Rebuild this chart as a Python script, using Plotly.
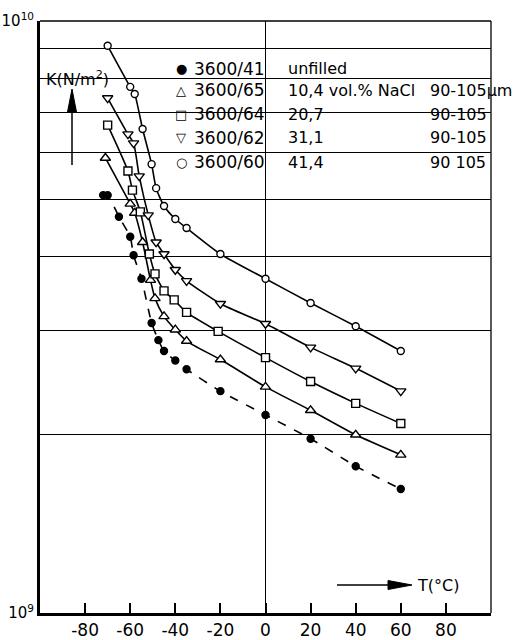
import plotly.graph_objects as go

# ---- data (temperature in °C, modulus K in N/m^2) ----
T_41 = [-72, -70, -65, -60, -58.5, -55, -50.5, -47.5, -45, -40, -35, -20, 0, 20, 40, 60]
K_41 = [5.08e9, 5.08e9, 4.67e9, 4.32e9, 4.02e9, 3.67e9, 3.09e9, 2.89e9, 2.77e9, 2.67e9, 2.58e9,
        2.37e9, 2.16e9, 1.97e9, 1.77e9, 1.62e9]

T_65 = [-71, -60, -58, -54.5, -51, -49, -45, -40, -35, -20, 0, 20, 40, 60]
K_65 = [5.87e9, 4.91e9, 4.74e9, 4.23e9, 3.65e9, 3.40e9, 3.17e9, 3.01e9, 2.88e9, 2.68e9,
        2.41e9, 2.20e9, 2.00e9, 1.85e9]

T_64 = [-70, -61, -59, -55.5, -51.5, -49, -45, -40.5, -35, -21, 0, 20, 40, 60]
K_64 = [6.67e9, 5.58e9, 5.18e9, 4.76e9, 4.04e9, 3.74e9, 3.50e9, 3.38e9, 3.22e9, 2.99e9,
        2.70e9, 2.46e9, 2.26e9, 2.09e9]

T_62 = [-70, -61, -58.5, -56, -52, -48.5, -45, -40, -35, -20, 0, 20, 40, 60]
K_62 = [7.41e9, 6.44e9, 6.22e9, 5.47e9, 4.70e9, 4.23e9, 4.04e9, 3.80e9, 3.64e9, 3.33e9,
        3.08e9, 2.81e9, 2.59e9, 2.37e9]

T_60 = [-70, -60, -58, -54.5, -50.5, -48.5, -45, -40, -35, -20, 0, 20, 40, 60]
K_60 = [9.08e9, 7.74e9, 7.53e9, 6.57e9, 5.73e9, 5.22e9, 4.87e9, 4.63e9, 4.47e9, 4.04e9,
        3.67e9, 3.34e9, 3.05e9, 2.77e9]

X_TICKS = [-80, -60, -40, -20, 0, 20, 40, 60, 80]
Y_GRID = [2e9, 3e9, 4e9, 5e9, 6e9, 7e9, 8e9, 9e9]

LEG_SYM = ["\u25cf", "\u25b3", "\u25a1", "\u25bd", "\u25cb"]
LEG_NAME = ["3600/41", "3600/65", "3600/64", "3600/62", "3600/60"]
LEG_FILL = ["unfilled", "10,4 vol.% NaCl", "20,7", "31,1", "41,4"]
LEG_SIZE = ["", "90-105\u03bcm", "90-105", "90-105", "90 105"]

FONT = "DejaVu Sans"

fig = go.Figure()

series = [
    (T_41, K_41, "circle", "black", "dash", 7),
    (T_65, K_65, "triangle-up", "white", "solid", 9),
    (T_64, K_64, "square", "white", "solid", 8),
    (T_62, K_62, "triangle-down", "white", "solid", 9),
    (T_60, K_60, "circle", "white", "solid", 7),
]
for (tx, ky, sym, fill, dash, size), nm in zip(series, LEG_NAME):
    fig.add_trace(go.Scatter(
        x=tx, y=ky, name=nm, mode="lines+markers",
        line=dict(color="black", width=1.6, shape="spline", smoothing=0.6, dash=dash),
        marker=dict(symbol=sym, size=size, color=fill, line=dict(color="black", width=1.4)),
    ))

L, R, T, B = 40, 491, 21, 613
W, H = R - L, B - T


def px(x):
    return (x - L) / W


def py(y):
    return (B - y) / H


fig.update_layout(
    width=515, height=640,
    margin=dict(l=L, r=515 - R, t=T, b=640 - B, autoexpand=False),
    plot_bgcolor="white", paper_bgcolor="white",
    showlegend=False,
    font=dict(family=FONT, color="black"),
    xaxis=dict(
        range=[-100, 100], tickvals=X_TICKS, ticktext=[str(v) for v in X_TICKS],
        ticks="inside", ticklen=10, tickwidth=2, tickcolor="black",
        showgrid=False, zeroline=True, zerolinecolor="black", zerolinewidth=1.2,
        showline=True, linewidth=3, linecolor="black", mirror=False,
        tickfont=dict(size=17, family=FONT), automargin=False,
    ),
    yaxis=dict(
        type="log", range=[9, 10],
        tickvals=[1e9, 1e10], ticktext=["10<sup>9</sup>", "10<sup>10</sup>"],
        ticks="", showgrid=False, zeroline=False,
        showline=True, linewidth=3, linecolor="black", mirror=False,
        tickfont=dict(size=15, family=FONT), automargin=False,
        minor=dict(tickvals=Y_GRID, showgrid=True, gridcolor="black", gridwidth=1, ticks=""),
    ),
)

# top / right thin border
fig.add_shape(type="line", xref="paper", yref="paper", x0=0, x1=1, y0=1, y1=1,
              line=dict(color="black", width=1.3))
fig.add_shape(type="line", xref="paper", yref="paper", x0=1, x1=1, y0=0, y1=1,
              line=dict(color="black", width=1.3))

# K axis arrow
fig.add_shape(type="line", xref="paper", yref="paper", x0=px(72), x1=px(72), y0=py(165), y1=py(105),
              line=dict(color="black", width=1.5))
fig.add_shape(type="path", xref="paper", yref="paper",
              path=f"M {px(72)},{py(89)} L {px(67.5)},{py(112)} L {px(76.5)},{py(112)} Z",
              fillcolor="black", line=dict(color="black", width=1))
fig.add_annotation(x=px(44), y=py(78), xref="paper", yref="paper", xanchor="left", yanchor="middle",
                   text="K(N/m<sup>2</sup>)", showarrow=False, font=dict(size=16, family=FONT))

# T axis arrow
fig.add_shape(type="line", xref="paper", yref="paper", x0=px(337), x1=px(392), y0=py(585), y1=py(585),
              line=dict(color="black", width=1.5))
fig.add_shape(type="path", xref="paper", yref="paper",
              path=f"M {px(412)},{py(585)} L {px(388)},{py(580.5)} L {px(388)},{py(589.5)} Z",
              fillcolor="black", line=dict(color="black", width=1))
fig.add_annotation(x=px(415), y=py(585), xref="paper", yref="paper", xanchor="left", yanchor="middle",
                   text="T(\u00b0C)", showarrow=False, font=dict(size=16, family=FONT))

# legend block as text
rows_y = [69, 90, 114, 138, 162]
for i, ry in enumerate(rows_y):
    fig.add_annotation(x=px(181), y=py(ry), xref="paper", yref="paper", xanchor="center", yanchor="middle",
                       text=LEG_SYM[i], showarrow=False, font=dict(size=13, family=FONT))
    fig.add_annotation(x=px(267), y=py(ry), xref="paper", yref="paper", xanchor="right", yanchor="middle",
                       text=LEG_NAME[i], showarrow=False, font=dict(size=17, family=FONT))
    fig.add_annotation(x=px(286), y=py(ry), xref="paper", yref="paper", xanchor="left", yanchor="middle",
                       text=LEG_FILL[i], showarrow=False, font=dict(size=16, family=FONT))
    if LEG_SIZE[i]:
        fig.add_annotation(x=px(428), y=py(ry), xref="paper", yref="paper", xanchor="left", yanchor="middle",
                           text=LEG_SIZE[i], showarrow=False, font=dict(size=16, family=FONT))

fig.write_html("out.html")
